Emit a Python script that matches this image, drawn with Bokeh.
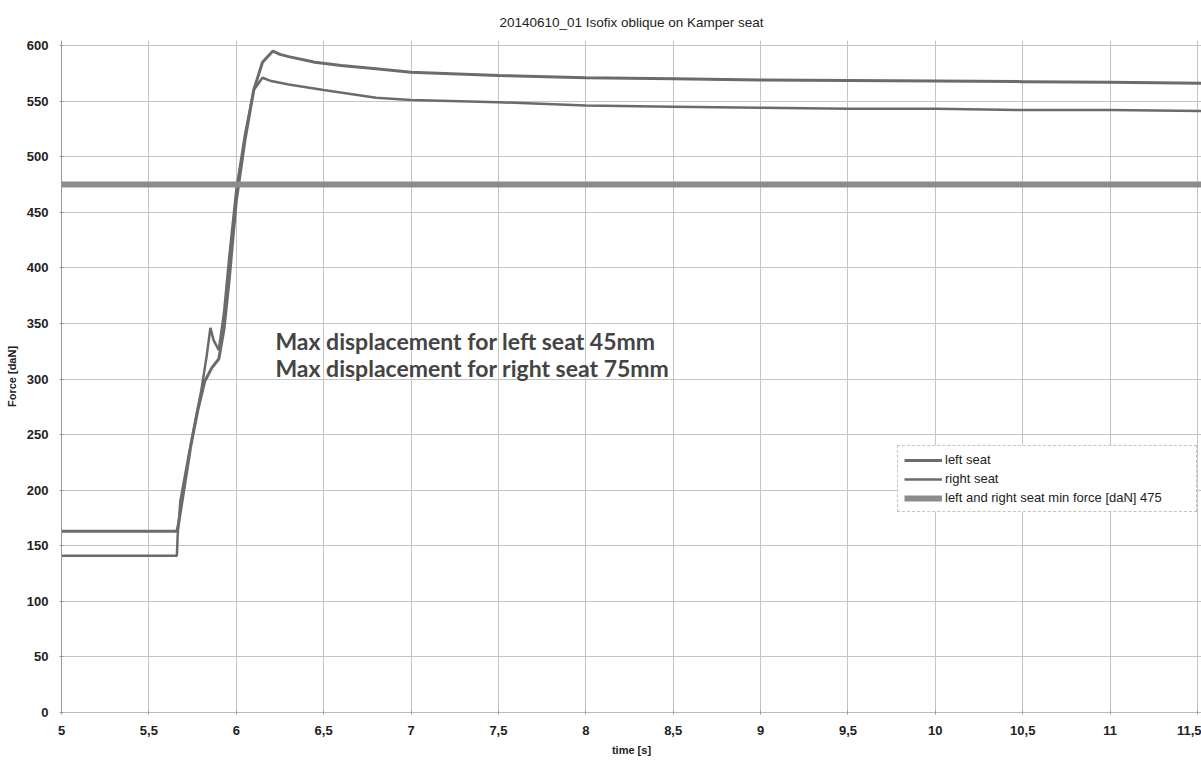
from bokeh.plotting import figure
from bokeh.models import (Range1d, FixedTicker, Legend, LegendItem, Label)
from bokeh.embed import file_html
from bokeh.resources import INLINE

# Measured seat forces [daN] against time [s]
left_time = [5.0, 5.66, 5.67, 5.70, 5.74, 5.78, 5.82, 5.86, 5.90, 5.93, 5.96, 6.00,
             6.05, 6.10, 6.15, 6.21, 6.25, 6.30, 6.45, 6.60, 6.80, 7.00, 7.50, 8.00,
             8.50, 9.00, 9.50, 10.00, 10.50, 11.00, 11.60]
left_force = [163, 163, 170, 200, 240, 272, 298, 310, 318, 345, 390, 460,
              515, 560, 585, 595, 592, 590, 585, 582, 579, 576, 573, 571,
              570, 569, 568.5, 568, 567.5, 567, 566]

right_time = [5.0, 5.66, 5.665, 5.68, 5.72, 5.76, 5.80, 5.83, 5.852, 5.87, 5.90, 5.93,
              5.96, 6.00, 6.05, 6.10, 6.15, 6.20, 6.30, 6.50, 6.80, 7.00, 7.50, 8.00,
              8.50, 9.00, 9.50, 10.00, 10.50, 11.00, 11.60]
right_force = [141, 141, 160, 190, 225, 258, 290, 320, 346, 335, 326, 360,
               410, 470, 520, 560, 571, 568, 565, 560, 553, 551, 549, 546,
               545, 544, 543, 543, 542, 542, 541]

min_force = 475
min_time = [5.0, 11.6]

x_ticks = [5, 5.5, 6, 6.5, 7, 7.5, 8, 8.5, 9, 9.5, 10, 10.5, 11, 11.5]
x_tick_labels = ["5", "5,5", "6", "6,5", "7", "7,5", "8", "8,5", "9", "9,5",
                 "10", "10,5", "11", "11,5"]
y_ticks = list(range(0, 601, 50))

FONT = "Liberation Sans"
CURVE = "#6b6b6b"

p = figure(width=1201, height=763, output_backend="svg", toolbar_location=None,
           x_range=Range1d(5.0, 11.523), y_range=Range1d(0, 604.5),
           min_border_left=61, min_border_right=0, min_border_top=40,
           min_border_bottom=51)
p.outline_line_color = None
p.background_fill_color = "white"

p.title.text = "20140610_01 Isofix oblique on Kamper seat"
p.title.align = "center"
p.title.vertical_align = "top"
p.title.text_font = FONT
p.title.text_font_size = "13.5px"
p.title.text_font_style = "normal"
p.title.text_color = "#222222"
p.title.text_line_height = 1.0
p.title.standoff = 18

p.xaxis.ticker = FixedTicker(ticks=x_ticks)
p.xaxis.major_label_overrides = {t: s for t, s in zip(x_ticks, x_tick_labels)}
p.yaxis.ticker = FixedTicker(ticks=y_ticks)

for ax in (p.xaxis[0], p.yaxis[0]):
    ax.major_label_text_font = FONT
    ax.major_label_text_font_size = "13px"
    ax.major_label_text_font_style = "bold"
    ax.major_label_text_color = "#222222"
    ax.axis_label_text_font = FONT
    ax.axis_label_text_font_size = "11px"
    ax.axis_label_text_font_style = "bold"
    ax.axis_label_text_color = "#222222"
    ax.minor_tick_line_color = None
    ax.major_tick_line_color = "#999999"
    ax.major_tick_out = 2
    ax.major_tick_in = 2

p.xaxis.major_label_standoff = 11
p.yaxis.major_label_standoff = 11
p.xaxis.axis_label = "time [s]"
p.xaxis.axis_label_standoff = 6
p.yaxis.axis_label = "Force [daN]"
p.yaxis.axis_label_standoff = 6
p.xaxis.axis_line_color = "#bbbbbb"
p.yaxis.axis_line_color = "#999999"

p.xgrid.ticker = FixedTicker(ticks=x_ticks)
p.ygrid.ticker = FixedTicker(ticks=y_ticks)
p.grid.grid_line_color = "#c4c4c4"
p.grid.grid_line_width = 1

r_left = p.line(left_time, left_force, line_color=CURVE, line_width=3)
r_right = p.line(right_time, right_force, line_color=CURVE, line_width=2.5)
r_min = p.line(min_time, [min_force, min_force], line_color="#8c8c8c", line_width=6)

note1 = Label(x=6.224, y=334, text="Max displacement for left seat 45mm",
              text_font="Lato", text_font_style="bold", text_font_size="23px",
              text_color="#444444", text_baseline="middle")
note2 = Label(x=6.224, y=310, text="Max displacement for right seat 75mm",
              text_font="Lato", text_font_style="bold", text_font_size="23px",
              text_color="#444444", text_baseline="middle")
p.add_layout(note1)
p.add_layout(note2)

legend = Legend(items=[
    LegendItem(label="left seat", renderers=[r_left]),
    LegendItem(label="right seat", renderers=[r_right]),
    LegendItem(label=f"left and right seat min force [daN] {min_force}", renderers=[r_min]),
], location=(836, 200))
legend.label_text_font = FONT
legend.label_text_font_size = "13px"
legend.label_text_color = "#222222"
legend.glyph_width = 38
legend.glyph_height = 14
legend.label_height = 14
legend.label_width = 245
legend.label_standoff = 3
legend.spacing = 4
legend.padding = 6
legend.margin = 0
legend.border_line_color = "#888888"
legend.border_line_dash = "4 2"
legend.background_fill_color = "white"
legend.background_fill_alpha = 1.0
p.add_layout(legend, "center")

open("out.html", "w").write(file_html(p, INLINE))
